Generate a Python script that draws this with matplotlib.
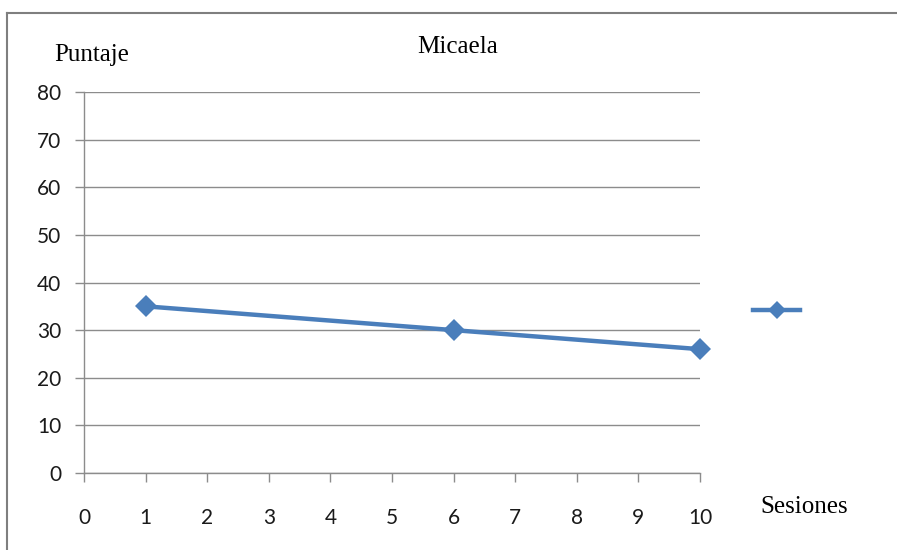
"""
Puntaje por sesiones - Micaela.
"""

import matplotlib
matplotlib.use('Agg')
import matplotlib.pyplot as plt
from matplotlib.lines import Line2D

title = 'Micaela'
label_y = 'Puntaje'
label_x = 'Sesiones'

sesiones = [1, 6, 10]
puntaje = [35, 30, 26]

x_ticks = list(range(0, 11))
y_ticks = list(range(0, 81, 10))

blue = '#4a7ebb'
grey = '#8c8c8c'
tick_font = 'Lato'
text_font = 'Liberation Serif'

fig = plt.figure(figsize=(8.97, 5.50), dpi=100)
ax = fig.add_axes([0.0936, 0.14, 0.6868, 0.6927])

line, = ax.plot(sesiones, puntaje, '-', color=blue, linewidth=3.2,
                marker='D', markersize=11, markeredgewidth=0, zorder=3,
                clip_on=False)

ax.set_xlim(0, 10)
ax.set_ylim(0, 80)
ax.set_xticks(x_ticks)
ax.set_yticks(y_ticks)
ax.yaxis.grid(True, color=grey, linewidth=1)
ax.set_axisbelow(True)

for side in ('top', 'right'):
    ax.spines[side].set_visible(False)
for side in ('left', 'bottom'):
    ax.spines[side].set_color(grey)
    ax.spines[side].set_linewidth(1)

ax.tick_params(axis='both', direction='out', color=grey, length=6.5, width=1,
               labelsize=15, labelcolor='#1a1a1a')
ax.tick_params(axis='x', pad=19)
ax.tick_params(axis='y', pad=10)
for lbl in ax.get_xticklabels() + ax.get_yticklabels():
    lbl.set_fontfamily(tick_font)

fig.text(458 / 897, 1 - 47 / 550, title, ha='center', va='center',
         fontsize=18, family=text_font)
fig.text(92 / 897, 1 - 55 / 550, label_y, ha='center', va='center',
         fontsize=18, family=text_font)
fig.text(804 / 897, 1 - 507 / 550, label_x, ha='center', va='center',
         fontsize=18, family=text_font)

# legend entry without text
fig.legend(handles=[line], labels=[''], loc='center',
           bbox_to_anchor=(778 / 897, 1 - 311 / 550), frameon=False,
           handlelength=3.4, handletextpad=0.2, fontsize=10, markerscale=0.8)

# chart area border (top and left edges)
fig.add_artist(Line2D([7 / 897, 1.0], [1 - 13 / 550, 1 - 13 / 550],
                      transform=fig.transFigure, color='#7f7f7f', linewidth=1.5))
fig.add_artist(Line2D([7 / 897, 7 / 897], [0.0, 1 - 13 / 550],
                      transform=fig.transFigure, color='#7f7f7f', linewidth=1.5))

fig.savefig('out.png', dpi=100)
